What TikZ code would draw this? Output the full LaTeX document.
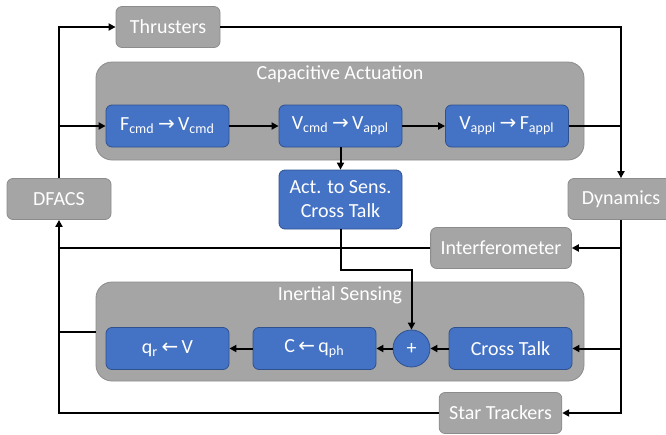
\documentclass[tikz,border=0pt]{standalone}
\usepackage{fontspec}
\setmainfont{Carlito}
\newfontfamily\arrowfont{DejaVu Sans}
\usetikzlibrary{arrows.meta}
\definecolor{blockgray}{HTML}{A5A5A5}
\definecolor{blockgrayline}{HTML}{8C8C8C}
\definecolor{blockblue}{HTML}{4472C4}
\definecolor{blockblueline}{HTML}{2F528F}
\tikzset{
  grayblock/.style={draw=blockgrayline, fill=blockgray, rounded corners=3pt, text=white,
    minimum width=52pt, minimum height=20.5pt, inner xsep=5pt},
  blueblock/.style={draw=blockblueline, fill=blockblue, rounded corners=3pt, text=white,
    minimum width=61.5pt, minimum height=21pt, align=center},
  groupbox/.style={draw=blockgrayline, fill=blockgray, rounded corners=8pt},
  grouplabel/.style={text=white},
  sumblock/.style={circle, draw=blockblueline, fill=blockblue, text=white,
    minimum size=18.5pt, inner sep=0pt},
  link/.style={line width=1pt, -{Triangle[length=3.5pt,width=3.5pt]}},
  plainlink/.style={line width=1pt},
}
\newcommand{\GenericBlock}[5]{
  \node [#1] (#2) at (#3, #4) {#5};
}
\newcommand{\GrayBlock}[4]{
  \GenericBlock{grayblock}{#1}{#2}{#3}{#4}
}
\newcommand{\BlueBlock}[4]{
  \GenericBlock{blueblock}{#1}{#2}{#3}{#4}
}
\newcommand{\StraightLink}[2]{
  \draw [link] (#1) -- (#2);
}
\newcommand{\RightArr}{\,{\fontsize{10}{10}\arrowfont →}\,}
\newcommand{\LeftArr}{\,{\fontsize{10}{10}\arrowfont ←}\,}
\begin{document}
\begin{tikzpicture}[x=0.5pt, y=-0.5pt]
  \useasboundingbox (0,0) rectangle (666,435);

  % group boxes
  \node [groupbox, minimum width=244pt, minimum height=49pt] (capact) at (340,111) {};
  \node [grouplabel] (capactlabel) at (340,74) {Capacitive Actuation};
  \node [groupbox, minimum width=244pt, minimum height=49.5pt] (inertial) at (340,331.5) {};
  \node [grouplabel] (inertiallabel) at (340,295) {Inertial Sensing};

  % outer blocks
  \GrayBlock{dfacs}{59}{199}{DFACS}
  \GrayBlock{thrusters}{168}{27}{Thrusters}
  \node [grayblock, minimum width=53pt] (dynamics) at (621,199) {Dynamics};
  \GrayBlock{interf}{501}{248}{Interferometer}
  \GrayBlock{star}{500.5}{413}{Star Trackers}

  % actuation chain
  \BlueBlock{fv}{167.5}{126}{F\textsubscript{cmd}\RightArr V\textsubscript{cmd}}
  \BlueBlock{vv}{340.5}{126}{V\textsubscript{cmd}\RightArr V\textsubscript{appl}}
  \BlueBlock{vf}{507}{126}{V\textsubscript{appl}\RightArr F\textsubscript{appl}}
  \node [blueblock, minimum height=29.5pt] (act) at (340.5,199.5) {Act. to Sens.\\Cross Talk};
  \StraightLink{fv}{vv}
  \StraightLink{vv}{vf}
  \StraightLink{vv}{act}

  % sensing chain
  \BlueBlock{qv}{167.5}{348.5}{q\textsubscript{r}\LeftArr V}
  \BlueBlock{cq}{314.5}{348.5}{C\LeftArr q\textsubscript{ph}}
  \BlueBlock{cross}{510.5}{348.5}{Cross Talk}
  \node [sumblock] (sum) at (411.5,348.5) {+};
  \StraightLink{cross}{sum}
  \StraightLink{sum}{cq}
  \StraightLink{cq}{qv}
  \coordinate (ctbend) at (411.5,270);
  \draw [link] (act.south) |- (ctbend) -- (sum.north);

  % DFACS out
  \draw [link] (dfacs.north) |- (thrusters.west);
  \draw [link] (dfacs.north |- fv.west) -- (fv.west);

  % into dynamics
  \draw [link] (thrusters.east) -| (dynamics.north);
  \draw [plainlink] (vf.east) -- (dynamics.north |- vf.east);

  % dynamics to sensors
  \draw [link] (dynamics.south) |- (star.east);
  \draw [link] (dynamics.south |- interf.east) -- (interf.east);
  \draw [link] (dynamics.south |- cross.east) -- (cross.east);

  % sensors back to DFACS
  \draw [link] (star.west) -| (dfacs.south);
  \draw [plainlink] (interf.west) -- (dfacs.south |- interf.west);
  \draw [plainlink] (inertial.west) -- (dfacs.south |- inertial.west);

\end{tikzpicture}
\end{document}
